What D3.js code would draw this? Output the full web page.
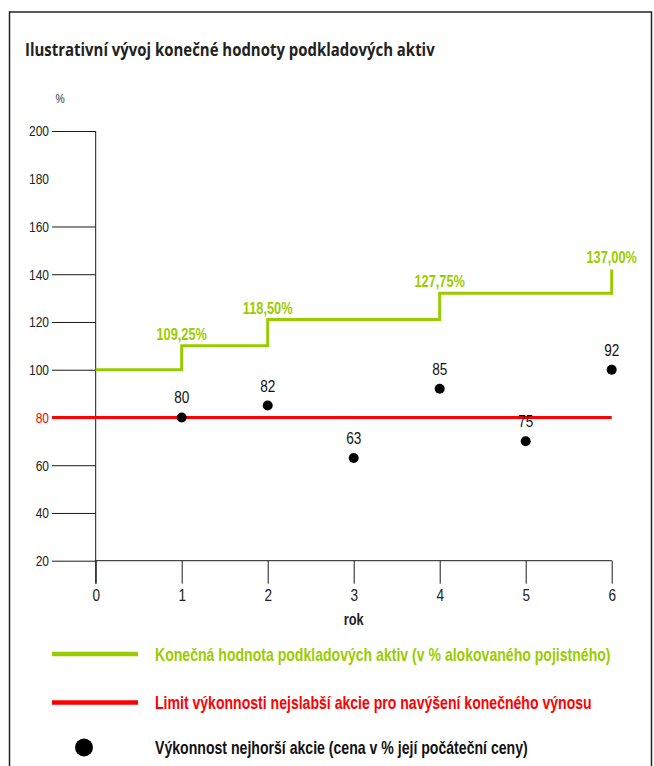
<!DOCTYPE html>
<html>
<head>
<meta charset="utf-8">
<script src="https://cdn.jsdelivr.net/npm/d3@7"></script>
<style>
  body { margin: 0; background: #fff; }
  svg { display: block; }
</style>
</head>
<body>
<svg id="chart" width="654" height="766"></svg>
<script>
// data
const years = [0, 1, 2, 3, 4, 5, 6]
const yTicks = [20, 40, 60, 80, 100, 120, 140, 160, 180, 200]
const limitValue = 80

// green step line (value as drawn), with the labels printed above it
const assetValues = [100, 110, 121, 121, 132, 132, 142]
const assetLabelYears = [1, 2, 4, 6]
const assetLabels = ['109,25%', '118,50%', '127,75%', '137,00%']

// worst stock dots (as drawn) and their printed labels
const stockYears = [1, 2, 3, 4, 5, 6]
const stockValues = [80, 85, 63, 92, 70, 100]
const stockLabels = ['80', '82', '63', '85', '75', '92']

const legendItems = [
  'Konečná hodnota podkladových aktiv (v % alokovaného pojistného)',
  'Limit výkonnosti nejslabší akcie pro navýšení konečného výnosu',
  'Výkonnost nejhorší akcie (cena v % její počáteční ceny)',
]

const green = '#99cc00'
const red = '#ff0000'
const ink = '#1a1a1a'
const sans = '"Liberation Sans", Arial, sans-serif'
const narrowX = 0.8 // the original lettering is a condensed face

const width = 654
const height = 766

const svg = d3.select('#chart')

svg.append('rect').attr('width', width).attr('height', height).attr('fill', '#fff')

// squeeze a text horizontally so it spans the given width
function fitText(sel, x, y, target) {
  sel.attr('x', 0).attr('y', 0)
  const len = sel.node().getComputedTextLength()
  sel.attr('transform', `translate(${x},${y}) scale(${target / len},1)`)
}

// frame
svg
  .append('rect')
  .attr('x', 9.5)
  .attr('y', 12)
  .attr('width', 642)
  .attr('height', 800)
  .attr('fill', 'none')
  .attr('stroke', '#222')
  .attr('stroke-width', 1.5)

svg
  .append('text')
  .style('font-family', '"Open Sans", sans-serif')
  .style('font-weight', 700)
  .style('font-size', '18px')
  .attr('fill', '#222')
  .text('Ilustrativní vývoj konečné hodnoty podkladových aktiv')
  .call(fitText, 25, 56, 410)

svg
  .append('text')
  .attr('transform', `translate(60,103) scale(${narrowX},1)`)
  .attr('text-anchor', 'middle')
  .style('font-family', sans)
  .style('font-size', '13px')
  .attr('fill', '#333')
  .text('%')

// scales
const x = d3.scaleLinear().domain([0, 6]).range([95.7, 611.7])
const y = d3.scaleLinear().domain([20, 200]).range([560.7, 131])

const leftEdge = 52
const tickDown = 23
const yPad = 3

// y axis (ticks run from the labels to the axis line)
const yAxis = svg
  .append('g')
  .attr('transform', `translate(${x(0)},0)`)
  .call(
    d3
      .axisLeft(y)
      .tickValues(yTicks)
      .tickSize(x(0) - leftEdge)
      .tickPadding(yPad)
  )
yAxis.select('.domain').remove()
yAxis.selectAll('line').attr('stroke', ink)
yAxis
  .selectAll('.tick')
  .filter(d => d === 180)
  .select('line')
  .remove()
yAxis
  .selectAll('text')
  .attr('x', -(x(0) - leftEdge + yPad) / narrowX)
  .attr('transform', `scale(${narrowX},1)`)
  .style('font-family', sans)
  .style('font-size', '15px')
  .attr('fill', d => (d === limitValue ? red : '#222'))

svg
  .append('line')
  .attr('x1', x(0))
  .attr('x2', x(0))
  .attr('y1', y(200))
  .attr('y2', y(20) + tickDown)
  .attr('stroke', ink)

// x axis
const xAxis = svg
  .append('g')
  .attr('transform', `translate(0,${y(20)})`)
  .call(
    d3
      .axisBottom(x)
      .tickValues(years)
      .tickFormat(d3.format('d'))
      .tickSize(tickDown)
      .tickPadding(5)
  )
xAxis.select('.domain').remove()
xAxis.selectAll('line').attr('stroke', ink)
xAxis
  .selectAll('text')
  .attr('transform', `scale(${narrowX},1)`)
  .style('font-family', sans)
  .style('font-size', '17px')
  .attr('fill', '#222')

svg
  .append('line')
  .attr('x1', x(0))
  .attr('x2', x(6))
  .attr('y1', y(20))
  .attr('y2', y(20))
  .attr('stroke', ink)

svg
  .append('text')
  .attr('transform', `translate(${x(3)},625) scale(${narrowX},1)`)
  .attr('text-anchor', 'middle')
  .style('font-family', sans)
  .style('font-weight', 700)
  .style('font-size', '16px')
  .attr('fill', '#222')
  .text('rok')

// limit line
svg
  .append('line')
  .attr('x1', leftEdge)
  .attr('x2', x(6))
  .attr('y1', y(limitValue))
  .attr('y2', y(limitValue))
  .attr('stroke', red)
  .attr('stroke-width', 3)

// asset step line
const assetLine = d3
  .line()
  .x((d, i) => x(years[i]))
  .y(d => y(d))
  .curve(d3.curveStepAfter)

svg
  .append('path')
  .datum(assetValues)
  .attr('fill', 'none')
  .attr('stroke', green)
  .attr('stroke-width', 3)
  .attr('d', assetLine)

svg
  .selectAll('.asset-label')
  .data(assetLabels)
  .join('text')
  .attr('class', 'asset-label')
  .attr(
    'transform',
    (d, i) =>
      `translate(${x(assetLabelYears[i])},${y(assetValues[assetLabelYears[i]]) - 6}) scale(${narrowX},1)`
  )
  .attr('text-anchor', 'middle')
  .style('font-family', sans)
  .style('font-weight', 700)
  .style('font-size', '16px')
  .attr('fill', green)
  .text(d => d)

// worst stock dots
svg
  .selectAll('.stock')
  .data(stockValues)
  .join('circle')
  .attr('class', 'stock')
  .attr('cx', (d, i) => x(stockYears[i]))
  .attr('cy', d => y(d))
  .attr('r', 5)
  .attr('fill', '#000')

svg
  .selectAll('.stock-label')
  .data(stockLabels)
  .join('text')
  .attr('class', 'stock-label')
  .attr(
    'transform',
    (d, i) => `translate(${x(stockYears[i])},${y(stockValues[i]) - 14}) scale(${narrowX},1)`
  )
  .attr('text-anchor', 'middle')
  .style('font-family', sans)
  .style('font-size', '17px')
  .attr('fill', '#111')
  .text(d => d)

// legend
const legendY = [654, 702.5, 747.5]
const legendColors = [green, red, '#111']
const legendLengths = [456, 437, 373]

const legend = svg.append('g')

legend
  .selectAll('line')
  .data(legendItems.slice(0, 2))
  .join('line')
  .attr('x1', 52)
  .attr('x2', 138)
  .attr('y1', (d, i) => legendY[i])
  .attr('y2', (d, i) => legendY[i])
  .attr('stroke', (d, i) => legendColors[i])
  .attr('stroke-width', 4.5)

legend
  .append('circle')
  .attr('cx', 84)
  .attr('cy', legendY[2])
  .attr('r', 9)
  .attr('fill', '#000')

legend
  .selectAll('text')
  .data(legendItems)
  .join('text')
  .style('font-family', sans)
  .style('font-weight', 700)
  .style('font-size', '18px')
  .attr('fill', (d, i) => legendColors[i])
  .text(d => d)
  .each(function (d, i) {
    d3.select(this).call(fitText, 155, legendY[i] + 6.5, legendLengths[i])
  })
</script>
</body>
</html>
